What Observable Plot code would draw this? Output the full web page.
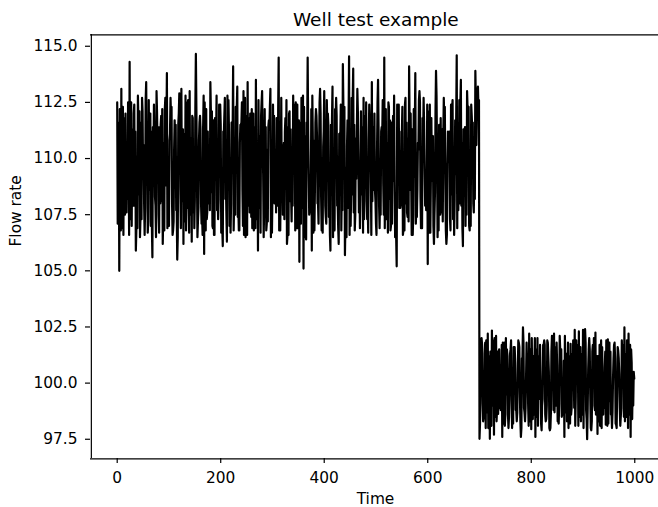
<!DOCTYPE html>
<html>
<head>
<meta charset="utf-8">
<script src="https://cdn.jsdelivr.net/npm/d3@7"></script>
<script src="https://cdn.jsdelivr.net/npm/@observablehq/plot@0.6"></script>
<style>
  html, body { margin: 0; padding: 0; background: #fff; }
  #chart svg { display: block; }
</style>
</head>
<body>
<div id="chart"></div>
<script>
// Flow rate before the drop, at t = 0, 4, 8 … 696
const flowBefore0 = [
  112.5, 105.0, 113.1, 106.6, 112.0, 108.2, 114.3, 107.0, 112.0, 105.9,
  112.8, 106.5, 112.7, 108.0, 113.4, 107.2, 112.0, 105.6, 111.0, 113.0,
  107.5, 111.5, 106.2, 112.2, 113.8, 107.0, 111.9, 106.8, 110.5, 105.5,
  112.9, 113.1, 106.2, 112.8, 107.8, 113.0, 106.3, 110.2, 114.66, 107.2,
  111.9, 107.5, 105.75, 112.2, 108.0, 113.4, 107.0, 106.6, 112.8, 108.2,
  111.5, 106.1, 112.7, 106.3, 111.2, 108.0, 114.1, 107.5, 113.2, 106.8,
  111.6, 113.0, 106.5, 113.4, 107.6, 112.2, 106.8, 113.5, 105.9, 111.0,
  113.0, 107.9, 106.8, 111.4, 113.1, 108.5, 108.0, 111.8, 114.5, 109.0,
  107.5, 111.2, 106.2, 112.0, 108.3, 112.8, 106.8, 112.4, 105.4, 112.7,
  105.1, 111.0, 114.5, 108.2, 105.9, 110.8, 112.2, 108.0, 113.1, 107.0,
  113.0, 107.1, 111.5, 105.9, 113.2, 106.8, 111.9, 106.2, 112.4, 114.2,
  105.7, 110.5, 114.55, 108.4, 114.0, 107.5, 113.1, 109.0, 108.4, 112.7,
  109.5, 107.8, 111.6, 113.4, 108.6, 107.1, 113.5, 108.8, 110.9, 114.5,
  107.3, 112.5, 106.8, 111.0, 108.9, 105.2, 112.4, 108.0, 106.6, 112.4,
  107.6, 114.1, 109.2, 107.5, 113.8, 108.6, 113.0, 107.1, 112.7, 108.8,
  105.3, 112.4, 109.0, 106.2, 113.9, 108.4, 107.5, 111.3, 111.6, 106.2,
  110.4, 106.8, 112.6, 108.2, 114.6, 109.5, 113.5, 106.1, 111.4, 113.0,
  107.0, 112.4, 108.0, 113.9, 112.9
];
// Flow rate before the drop, at t = 1, 5, 9 … 697
const flowBefore1 = [
  107.1, 112.2, 106.9, 111.8, 108.0, 112.5, 107.3, 110.9, 112.4, 106.8,
  111.7, 107.4, 112.1, 106.6, 110.2, 112.6, 107.0, 111.4, 108.3, 112.0,
  106.7, 111.9, 107.6, 112.7, 106.9, 110.8, 112.3, 107.2, 111.5, 106.5,
  112.4, 108.1, 111.1, 106.8, 112.6, 107.5, 111.9, 106.9, 112.2, 107.8,
  111.3, 106.6, 112.5, 107.3, 110.6, 112.1, 106.9, 111.8, 107.7, 112.4,
  106.7, 111.2, 108.2, 112.8, 107.0, 111.6, 106.8, 112.3, 107.4, 110.7,
  112.5, 106.6, 111.9, 107.9, 112.0, 106.9, 111.4, 107.3, 112.6, 106.7,
  110.9, 112.2, 107.1, 111.7, 106.5, 112.4, 108.0, 111.0, 106.8, 112.7,
  107.5, 111.8, 106.6, 112.1, 107.2, 110.5, 112.5, 106.9, 111.6, 107.8,
  112.3, 106.4, 111.2, 107.6, 112.8, 106.8, 111.9, 107.1, 112.0, 106.7,
  110.8, 112.6, 107.4, 111.5, 106.5, 112.2, 107.9, 111.1, 106.8, 112.4,
  107.2, 111.7, 106.6, 112.7, 107.6, 110.9, 112.1, 106.9, 111.4, 107.3,
  112.5, 106.7, 111.8, 108.1, 112.0, 106.6, 111.3, 107.5, 112.6, 106.9,
  110.6, 112.3, 107.0, 111.9, 106.5, 112.4, 107.8, 111.2, 106.8, 112.7,
  107.4, 111.6, 106.6, 112.2, 107.1, 110.7, 112.5, 106.9, 111.5, 107.7,
  112.1, 106.7, 111.0, 107.5, 112.8, 106.8, 111.8, 107.2, 112.3, 106.6,
  110.9, 112.4, 107.3, 111.7, 106.9, 112.6, 107.9, 111.3, 107.0, 112.2,
  106.8, 111.9, 107.6, 112.5, 113.2
];
// Flow rate before the drop, at t = 2, 6, 10 … 698
const flowBefore2 = [
  109.0, 110.8, 108.2, 111.0, 107.6, 110.5, 108.9, 111.3, 107.9, 110.1,
  108.4, 111.6, 109.2, 107.8, 110.9, 108.6, 111.2, 109.7, 107.9, 110.3,
  111.4, 108.1, 110.7, 108.8, 109.5, 111.1, 108.0, 110.4, 107.7, 111.5,
  108.7, 109.9, 110.6, 107.9, 111.0, 109.3, 111.8, 108.2, 109.6, 110.8,
  108.0, 111.4, 109.1, 107.6, 110.2, 108.5, 111.7, 109.8, 108.3, 110.9,
  107.8, 111.0, 108.9, 110.5, 109.4, 111.2, 108.1, 110.0, 107.9, 111.5,
  108.6, 109.7, 110.8, 108.2, 111.1, 109.0, 107.7, 110.6, 108.8, 111.9,
  109.3, 108.0, 110.4, 111.3, 108.7, 110.1, 109.5, 107.9, 111.0, 108.4,
  110.7, 109.0, 111.4, 108.1, 109.8, 110.9, 107.8, 111.2, 108.9, 110.3,
  108.2, 111.6, 109.4, 107.6, 110.8, 108.6, 111.0, 109.9, 108.3, 110.5,
  107.9, 111.3, 108.8, 110.0, 109.2, 111.7, 108.0, 110.6, 108.7, 111.1,
  109.6, 107.8, 110.9, 108.4, 111.5, 109.1, 110.2, 108.5, 111.0, 109.7,
  108.1, 110.8, 109.3, 111.4, 108.6, 110.3, 107.9, 111.2, 108.9, 109.8,
  110.7, 108.2, 111.6, 109.0, 107.7, 110.5, 108.8, 111.1, 109.5, 108.0,
  110.9, 108.6, 111.3, 109.2, 107.9, 110.4, 108.3, 111.8, 109.6, 108.1,
  110.6, 109.0, 111.0, 108.5, 110.2, 111.5, 107.8, 110.8, 108.9, 109.7,
  111.2, 108.4, 110.1, 109.3, 111.4, 108.0, 110.7, 108.7, 111.0, 109.4,
  108.2, 111.3, 109.8, 110.6, 112.2
];
// Flow rate before the drop, at t = 3, 7, 11 … 699
const flowBefore3 = [
  111.6, 106.8, 112.3, 107.5, 110.7, 106.6, 112.5, 107.9, 111.2, 106.9,
  112.1, 107.3, 110.6, 112.6, 106.7, 111.8, 107.0, 112.4, 106.5, 111.4,
  108.0, 112.2, 106.8, 111.0, 107.4, 112.7, 106.6, 111.7, 107.8, 112.0,
  106.9, 111.3, 107.2, 112.5, 106.7, 110.9, 107.6, 112.3, 106.5, 111.6,
  107.1, 112.8, 106.8, 111.2, 107.7, 112.1, 106.6, 110.8, 107.3, 112.4,
  106.9, 111.9, 107.5, 112.6, 106.7, 111.1, 108.1, 112.2, 106.8, 111.5,
  107.0, 112.7, 106.6, 111.8, 107.4, 112.0, 106.9, 110.7, 107.8, 112.5,
  106.5, 111.4, 107.2, 112.3, 106.7, 111.9, 107.6, 112.1, 106.8, 110.6,
  107.3, 112.6, 106.6, 111.3, 107.9, 112.4, 106.9, 111.7, 107.1, 112.8,
  106.5, 111.0, 107.5, 112.2, 106.7, 111.6, 108.0, 112.5, 106.8, 111.2,
  107.4, 112.0, 106.6, 111.8, 107.2, 112.7, 106.9, 110.9, 107.7, 112.3,
  106.5, 111.5, 107.0, 112.6, 106.8, 111.1, 107.6, 112.1, 106.7, 111.9,
  107.3, 112.4, 106.6, 110.8, 108.1, 112.5, 106.9, 111.4, 107.5, 112.2,
  106.7, 111.7, 107.1, 112.8, 106.5, 111.0, 107.8, 112.3, 106.8, 111.6,
  107.2, 112.0, 106.6, 111.3, 107.4, 112.6, 106.9, 110.7, 107.9, 112.4,
  106.7, 111.8, 107.0, 112.1, 106.5, 111.5, 107.6, 112.7, 106.8, 111.2,
  107.3, 112.2, 106.6, 111.9, 107.7, 112.5, 106.9, 111.1, 107.5, 112.3,
  107.0, 111.6, 108.2, 112.0, 112.6
];
// Flow rate after the drop, at t = 700, 704 … 996
const flowAfter0 = [
  97.52, 102.0, 98.5, 98.0, 102.2, 97.52, 102.34, 97.7, 102.1, 98.63,
  100.8, 97.6, 101.8, 99.5, 98.0, 101.5, 99.1, 101.6, 98.3, 101.8,
  97.6, 102.48, 98.3, 100.9, 102.2, 97.95, 101.2, 97.6, 102.0, 99.3,
  97.9, 101.7, 98.3, 101.8, 97.9, 102.1, 102.2, 99.0, 98.3, 101.45,
  99.6, 97.6, 101.3, 98.0, 101.75, 99.8, 102.37, 100.1, 102.3, 98.3,
  102.37, 102.4, 97.5, 102.0, 97.9, 100.6, 102.25, 97.74, 101.7, 98.0,
  100.4, 98.15, 101.95, 99.2, 98.0, 101.7, 98.15, 101.45, 98.1, 101.0,
  102.48, 98.5, 102.2, 97.6, 100.2
];
// Flow rate after the drop, at t = 701, 705 … 997
const flowAfter1 = [
  98.2, 101.7, 98.6, 101.9, 98.0, 101.4, 99.0, 102.0, 98.3, 101.2,
  98.8, 101.8, 98.1, 101.5, 98.5, 101.9, 98.2, 100.9, 98.7, 101.6,
  98.0, 101.8, 98.9, 101.3, 98.3, 102.0, 98.6, 101.5, 98.1, 101.7,
  99.0, 101.9, 98.4, 101.2, 98.0, 101.6, 98.7, 101.8, 98.2, 101.4,
  98.9, 102.1, 98.3, 101.0, 98.6, 101.9, 98.1, 101.7, 98.5, 101.3,
  98.0, 101.8, 98.8, 101.5, 98.3, 102.0, 98.6, 101.2, 98.1, 101.6,
  98.9, 101.9, 98.2, 101.4, 98.7, 101.8, 98.0, 101.1, 98.5, 101.7,
  98.3, 101.9, 98.6, 101.5, 99.0
];
// Flow rate after the drop, at t = 702, 706 … 998
const flowAfter2 = [
  100.2, 99.1, 101.3, 100.5, 98.7, 101.0, 99.4, 100.8, 98.9, 101.5,
  99.7, 100.9, 98.6, 101.2, 100.0, 99.2, 101.6, 98.8, 100.6, 99.5,
  101.1, 98.9, 100.3, 99.0, 101.4, 99.8, 100.7, 98.5, 101.0, 100.2,
  99.3, 101.7, 99.0, 100.5, 98.7, 101.3, 99.9, 100.8, 99.1, 101.5,
  98.6, 100.4, 99.7, 101.2, 98.9, 100.9, 99.4, 101.6, 99.2, 100.0,
  101.1, 98.8, 100.6, 99.5, 101.4, 99.0, 100.3, 98.7, 101.0, 99.8,
  100.7, 99.3, 101.5, 98.6, 100.2, 101.1, 99.6, 100.4, 98.9, 101.3,
  99.1, 100.8, 99.7, 100.9, 100.5
];
// Flow rate after the drop, at t = 703, 707 … 999
const flowAfter3 = [
  101.5, 98.3, 101.8, 98.7, 101.2, 98.1, 101.9, 98.5, 101.4, 98.9,
  101.7, 98.2, 102.0, 98.6, 101.3, 98.0, 101.6, 98.8, 101.9, 98.3,
  101.1, 98.7, 101.8, 98.1, 101.5, 98.4, 102.0, 98.9, 101.2, 98.2,
  101.7, 98.6, 101.9, 98.0, 101.4, 98.8, 101.6, 98.3, 102.1, 98.5,
  101.0, 98.7, 101.8, 98.2, 101.3, 98.9, 101.9, 98.1, 101.6, 98.6,
  102.0, 98.4, 101.5, 98.0, 101.7, 98.8, 101.2, 98.3, 101.9, 98.6,
  101.4, 98.1, 101.8, 98.7, 101.1, 98.2, 101.6, 98.9, 101.9, 98.5,
  101.3, 98.0, 101.7, 98.4, 100.2
];
const step = 4, startAfter = 700;
const xTicks = [0, 200, 400, 600, 800, 1000];
const yTicks = [97.5, 100.0, 102.5, 105.0, 107.5, 110.0, 112.5, 115.0];
const xDomain = [-49.95, 1048.95];
const yDomain = [96.63, 115.51];

const seriesParts = [
  [flowBefore0, 0, 0], [flowBefore1, 0, 1], [flowBefore2, 0, 2], [flowBefore3, 0, 3],
  [flowAfter0, startAfter, 0], [flowAfter1, startAfter, 1], [flowAfter2, startAfter, 2], [flowAfter3, startAfter, 3]
];
const data = d3.sort(
  seriesParts.flatMap(([arr, start, off]) => arr.map((v, i) => ({time: start + i * step + off, flow: v}))),
  d => d.time
);

const font = "'DejaVu Sans', sans-serif";

const chart = Plot.plot({
  width: 658,
  height: 507,
  marginLeft: 90,
  marginRight: 0,
  marginTop: 34,
  marginBottom: 49,
  style: {fontFamily: font, fontSize: "15.4px", color: "#000", background: "#fff", overflow: "hidden"},
  x: {domain: xDomain, range: [90.85, 659.6]},
  y: {domain: yDomain, range: [458.3, 34.3]},
  marks: [
    Plot.line(data, {x: "time", y: "flow", stroke: "#000", strokeWidth: 2.2}),
    Plot.ruleX([xDomain[0]], {stroke: "#000", strokeWidth: 1.2}),
    Plot.ruleY([yDomain[0]], {stroke: "#000", strokeWidth: 1.2}),
    Plot.ruleY([yDomain[1]], {stroke: "#000", strokeWidth: 1.2}),
    Plot.axisX({ticks: xTicks, tickFormat: d => String(d), tickSize: 5, tickPadding: 8.4,
      strokeWidth: 1.2, fontSize: 15.4, label: null}),
    Plot.axisY({ticks: yTicks, tickFormat: d => d.toFixed(1), tickSize: 5, tickPadding: 8,
      strokeWidth: 1.2, fontSize: 15.4, label: null}),
    Plot.text(["Well test example"], {frameAnchor: "top", lineAnchor: "bottom", dy: -9, dx: 1.3,
      fontSize: 18.5, fill: "#000"}),
    Plot.text(["Time"], {frameAnchor: "bottom", lineAnchor: "bottom", dy: 45, dx: 1,
      fontSize: 15.4, fill: "#000"}),
    Plot.text(["Flow rate"], {frameAnchor: "left", lineAnchor: "bottom", rotate: -90, dx: -69.3,
      fontSize: 15.4, fill: "#000"})
  ]
});
document.getElementById("chart").append(chart);
</script>
</body>
</html>
